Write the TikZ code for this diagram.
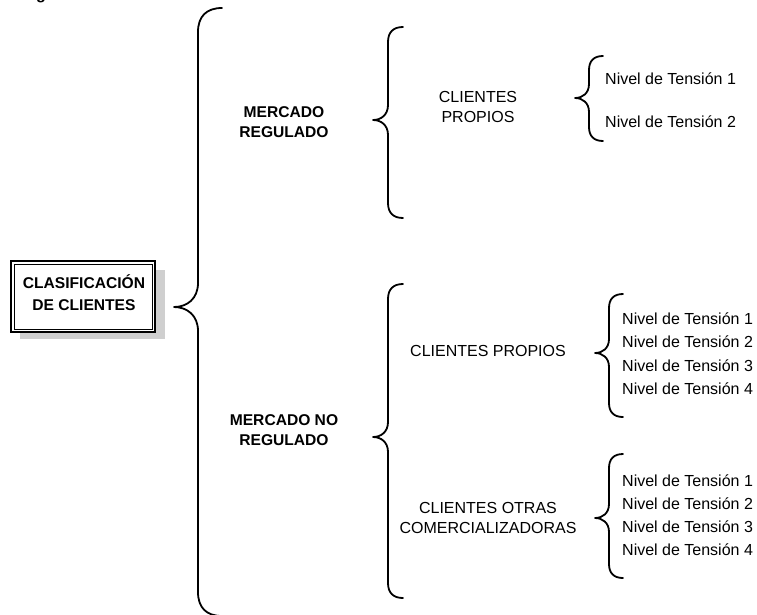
\documentclass[tikz,border=0pt]{standalone}
\usepackage{fontspec}
\setmainfont{Liberation Sans}
\begin{document}
\begin{tikzpicture}[x=1pt,y=-1pt,
  bracestyle/.style={line width=1.8pt,line cap=round,line join=round},
  lbl/.style={font=\fontsize{16}{19.5}\selectfont,align=center,inner sep=0pt},
  blbl/.style={font=\fontsize{15.6}{19.5}\selectfont\bfseries,align=center,inner sep=0pt},
  nivel/.style={font=\fontsize{16}{18}\selectfont,anchor=west,inner sep=0pt}]
\newcommand{\cbrace}[5]{%
\draw[bracestyle] ({#1+#5},#2) .. controls ({#1+0.35*#5},#2) and (#1,{#2+0.35*#5}) .. (#1,{#2+#5})
  -- (#1,{#3-#5}) .. controls (#1,{#3-0.35*#5}) and ({#1-0.45*#5},#3) .. ({#1-#5},#3)
  .. controls ({#1-0.45*#5},#3) and (#1,{#3+0.35*#5}) .. (#1,{#3+#5})
  -- (#1,{#4-#5}) .. controls (#1,{#4-0.35*#5}) and ({#1+0.35*#5},#4) .. ({#1+#5},#4);}
\useasboundingbox (0,0) rectangle (757,614);
% cut-off heading fragment
\node[font=\fontsize{16}{18}\selectfont\bfseries,anchor=base,inner sep=0pt] (head) at (41,-1) {g};
% main box
\fill[black!19] (20,270) rectangle (165,339);
\draw[fill=white,line width=1.1pt] (11,261) rectangle (155,332);
\draw[line width=0.6pt] (14,264) rectangle (152,329);
\node[blbl,font=\fontsize{15.6}{22}\selectfont\bfseries] (clas) at (84,293) {CLASIFICACIÓN\\DE CLIENTES};
% braces
\cbrace{198}{8}{307}{616}{24}
\cbrace{388}{27}{120}{218}{15}
\cbrace{388}{284}{437}{598}{15}
\cbrace{589}{56}{98}{141}{14}
\cbrace{609}{294}{353}{417}{14}
\cbrace{609}{454}{518}{578}{14}
% labels
\node[blbl] (mr) at (284,122) {MERCADO\\REGULADO};
\node[blbl] (mnr) at (284,430) {MERCADO NO\\REGULADO};
\node[lbl] (cp1) at (478,107) {CLIENTES\\PROPIOS};
\node[lbl] (cp2) at (488,351) {CLIENTES PROPIOS};
\node[lbl] (coc) at (488,518) {CLIENTES OTRAS\\COMERCIALIZADORAS};
\node[nivel] (n11) at (605,79) {Nivel de Tensión 1};
\node[nivel] (n12) at (605,122) {Nivel de Tensión 2};
\node[nivel] (n21) at (622,319) {Nivel de Tensión 1};
\node[nivel] (n22) at (622,342) {Nivel de Tensión 2};
\node[nivel] (n23) at (622,366) {Nivel de Tensión 3};
\node[nivel] (n24) at (622,389) {Nivel de Tensión 4};
\node[nivel] (n31) at (622,481) {Nivel de Tensión 1};
\node[nivel] (n32) at (622,504) {Nivel de Tensión 2};
\node[nivel] (n33) at (622,527) {Nivel de Tensión 3};
\node[nivel] (n34) at (622,550) {Nivel de Tensión 4};
\end{tikzpicture}
\end{document}
